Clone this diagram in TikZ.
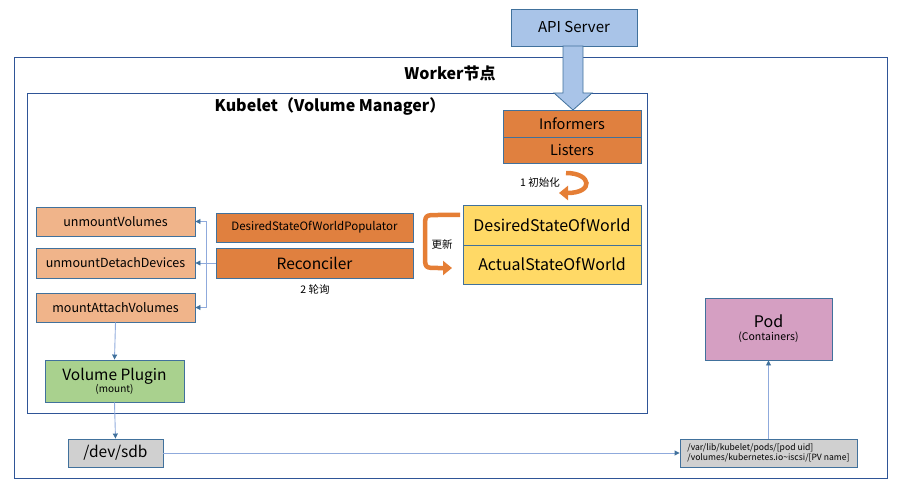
\documentclass[tikz,border=0pt]{standalone}
\usepackage{fontspec}
\setmainfont{Noto Sans CJK SC}
\usetikzlibrary{arrows.meta}
\definecolor{bord}{HTML}{41719C}
\definecolor{frame}{HTML}{2F5597}
\definecolor{conn}{HTML}{8FAADC}
\definecolor{apiblue}{HTML}{A9C4E8}
\definecolor{orng}{HTML}{E0803F}
\definecolor{lorng}{HTML}{F0B48A}
\definecolor{ylw}{HTML}{FFD966}
\definecolor{grn}{HTML}{A9D18E}
\definecolor{gry}{HTML}{D0D0D0}
\definecolor{pnk}{HTML}{D59FC2}
\definecolor{curv}{HTML}{E57E35}
\tikzset{
  box/.style={draw=bord, line width=0.9pt, inner sep=0pt, align=center, text=black},
  conline/.style={draw=conn, line width=0.9pt},
  conarrow/.style={conline, -{Triangle[length=5pt,width=5pt,fill=bord,color=bord]}},
  curvearrow/.style={draw=curv, line width=4.5pt, -{Triangle[length=9pt,width=14pt]}},
}
\begin{document}
\begin{tikzpicture}[x=1pt,y=-1pt]
\useasboundingbox (0,0) rectangle (903,500);
% frames
\node[draw=frame, line width=0.9pt, minimum width=873pt, minimum height=421pt, inner sep=0pt] (worker) at (450.5,267.5) {};
\node[font=\fontsize{16}{18}\selectfont\bfseries] (workert) at (450,73) {Worker节点};
\node[draw=frame, line width=0.9pt, minimum width=620pt, minimum height=320pt, inner sep=0pt] (kubelet) at (337,253) {};
\node[font=\fontsize{16}{18}\selectfont\bfseries] (kubt) at (330,107) {Kubelet（Volume Manager）};
% API server
\node[box, fill=apiblue, minimum width=126pt, minimum height=37pt, font=\fontsize{15}{17}\selectfont] (api) at (574,27.5) {API Server};
% big arrow
\draw[draw=bord, line width=0.8pt, fill=apiblue] (563,46) -- (583,46) -- (583,93) -- (592,93) -- (573,110) -- (554,93) -- (563,93) -- cycle;
% informers / listers
\node[box, fill=orng, minimum width=138pt, minimum height=27pt, font=\fontsize{14.5}{16}\selectfont] (inf) at (572,123.5) {Informers};
\node[box, fill=orng, minimum width=138pt, minimum height=26pt, font=\fontsize{14.5}{16}\selectfont] (lis) at (572,150) {Listers};
% DSW / ASW
\node[box, fill=ylw, minimum width=178pt, minimum height=40pt, font=\fontsize{16}{18}\selectfont] (dsw) at (552,225) {DesiredStateOfWorld};
\node[box, fill=ylw, minimum width=178pt, minimum height=39pt, font=\fontsize{16}{18}\selectfont] (asw) at (552,264.5) {ActualStateOfWorld};
% populator / reconciler
\node[box, fill=orng, minimum width=197pt, minimum height=29pt, font=\fontsize{11.5}{13}\selectfont] (pop) at (314.5,227.5) {DesiredStateOfWorldPopulator};
\node[box, fill=orng, minimum width=197pt, minimum height=30pt, font=\fontsize{15.5}{17}\selectfont] (rec) at (314.5,263) {Reconciler};
\node[font=\fontsize{10.5}{12}\selectfont] (poll) at (315,289) {2 轮询};
% operations
\node[box, fill=lorng, minimum width=159pt, minimum height=29pt, font=\fontsize{12.5}{14}\selectfont] (uv) at (115.5,221.5) {unmountVolumes};
\node[box, fill=lorng, minimum width=159pt, minimum height=30pt, font=\fontsize{12.5}{14}\selectfont] (udd) at (115.5,263) {unmountDetachDevices};
\node[box, fill=lorng, minimum width=159pt, minimum height=29pt, font=\fontsize{12.5}{14}\selectfont] (mav) at (115.5,307.5) {mountAttachVolumes};
% volume plugin
\node[box, fill=grn, minimum width=139pt, minimum height=42pt] (vp) at (114.5,381) {{\fontsize{15.5}{16}\selectfont Volume Plugin}\\[-1pt]{\fontsize{10}{11}\selectfont (mount)}};
% dev sdb
\node[box, fill=gry, minimum width=95pt, minimum height=28pt, font=\fontsize{15.5}{17}\selectfont] (sdb) at (115.5,453) {/dev/sdb};
% path box
\node[box, fill=gry, minimum width=177pt, minimum height=28pt, align=left, font=\fontsize{8.6}{10}\selectfont] (path) at (768.5,453) {/var/lib/kubelet/pods/[pod uid]\\/volumes/kubernetes.io\textasciitilde iscsi/[PV name]};
% pod
\node[box, fill=pnk, minimum width=127pt, minimum height=62pt] (pod) at (768.5,329) {{\fontsize{16}{18}\selectfont Pod}\\[1pt]{\fontsize{10.5}{12}\selectfont (Containers)}};
% labels
\node[font=\fontsize{10.5}{12}\selectfont] (init) at (540,183) {1 初始化};
\node[font=\fontsize{10.5}{12}\selectfont] (upd) at (442,244) {更新};
% curved arrows
\coordinate (c1s) at (566,173);
\coordinate (c1e) at (559,193);
\draw[curvearrow] (c1s) .. controls (592,173) and (594,193) .. (c1e);
\coordinate (c2s) at (460,215);
\coordinate (c2e) at (452,268);
\draw[curvearrow] (c2s) -- (438,215) .. controls (425,215) and (425,215) .. (425,228) -- (425,255) .. controls (425,268) and (425,268) .. (438,268) -- (c2e);
% connectors
\coordinate (bt) at (206,221.5);
\coordinate (bb) at (206,307.5);
\draw[conarrow] (rec.west) -- (udd.east);
\draw[conline] (bt) -- (bb);
\draw[conarrow] (bt) -- (uv.east);
\draw[conarrow] (bb) -- (mav.east);
\draw[conarrow] (mav.south) -- (vp.north);
\draw[conarrow] (vp.south) -- (sdb.north);
\draw[conarrow] (sdb.east) -- (path.west);
\draw[conarrow] (path.north) -- (pod.south);
\end{tikzpicture}
\end{document}
